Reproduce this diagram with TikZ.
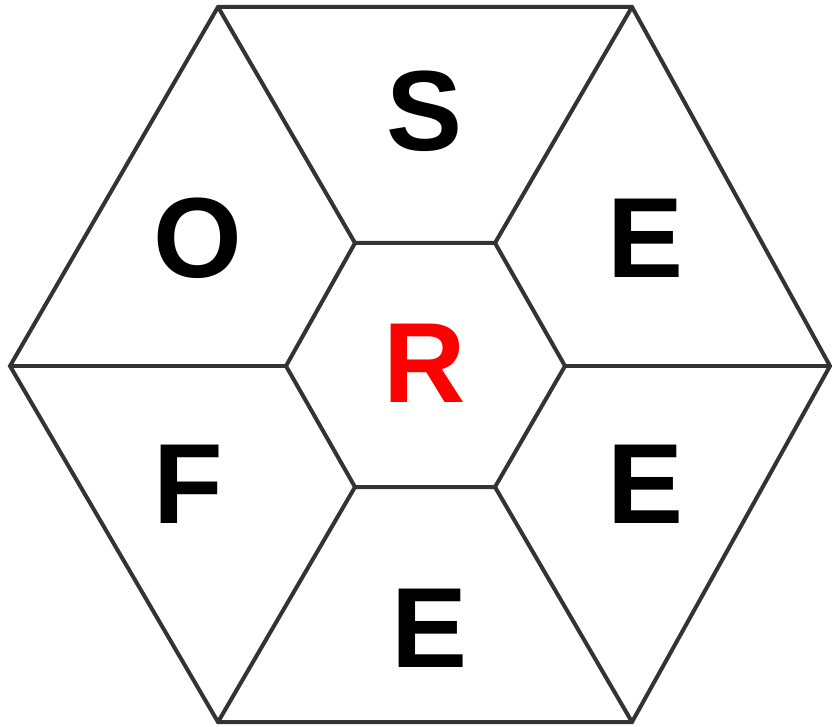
\documentclass[tikz,border=0pt]{standalone}
\usepackage{fontspec}
\setmainfont{Liberation Sans}
\usepackage{tikz}
\definecolor{hexgray}{HTML}{333333}

\begin{document}
\begin{tikzpicture}[
  x=1pt, y=-1pt,
  edge/.style={draw=hexgray, line width=4pt, line join=miter},
  letter/.style={font=\fontsize{114}{116}\selectfont\bfseries, inner sep=0pt},
  centre/.style={letter, text=red}
]
\useasboundingbox (0,0) rectangle (832,727);
% outer hexagon
\coordinate (o1) at (218,7);
\coordinate (o2) at (632,7);
\coordinate (o3) at (830,366);
\coordinate (o4) at (632,722);
\coordinate (o5) at (218,722);
\coordinate (o6) at (10,366);
% inner hexagon
\coordinate (i1) at (355,243);
\coordinate (i2) at (495,243);
\coordinate (i3) at (565,366);
\coordinate (i4) at (495,487);
\coordinate (i5) at (355,487);
\coordinate (i6) at (286,366);

\draw[edge] (o1) -- (o2) -- (o3) -- (o4) -- (o5) -- (o6) -- cycle;
\draw[edge] (i1) -- (i2) -- (i3) -- (i4) -- (i5) -- (i6) -- cycle;
\foreach \k in {1,...,6}
  \draw[edge] (i\k) -- (o\k);

\node[letter] (s) at (425,111) {S};
\node[letter] (o) at (198,238) {O};
\node[letter] (e1) at (646,238) {E};
\node[centre] (r) at (425,363) {R};
\node[letter] (f) at (188,484) {F};
\node[letter] (e2) at (646,484) {E};
\node[letter] (e3) at (430,628) {E};
\end{tikzpicture}
\end{document}
